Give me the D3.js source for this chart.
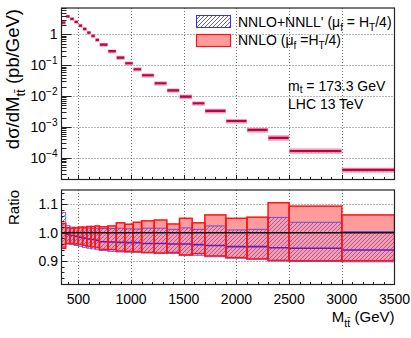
<!DOCTYPE html>
<html>
<head>
<meta charset="utf-8">
<script src="https://cdn.jsdelivr.net/npm/d3@7"></script>
<style>
  body { margin: 0; background: #fff; }
  text { font-family: "Liberation Sans", Arial, sans-serif; fill: #000; }
</style>
</head>
<body>
<div id="chart"></div>
<script>
// M_tt distribution, LHC 13 TeV: NNLO vs NNLO+NNLL'
const binEdges = [340, 380, 420, 460, 500, 540, 580, 620, 660, 700, 780, 860, 940, 1020, 1100,
                  1220, 1340, 1460, 1580, 1700, 1900, 2100, 2300, 2500, 3000, 3500];
// NNLO central value, pb/GeV
const nnloXsec = [2.42, 3.84, 3.19, 2.55, 1.93, 1.51, 1.14, 0.894, 0.663, 0.467, 0.285, 0.177, 0.116,
                  0.0741, 0.0473, 0.0260, 0.0154, 0.00957, 0.00584, 0.00328, 0.00155, 0.000794,
                  0.000437, 0.000165, 0.000040];
// NNLO scale band, as ratio to NNLO central
const nnloUp = [1.033, 1.018, 1.016, 1.018, 1.020, 1.020, 1.022, 1.022, 1.024, 1.021, 1.024, 1.035, 1.030,
                1.037, 1.042, 1.045, 1.031, 1.051, 1.035, 1.063, 1.051, 1.055, 1.106, 1.094, 1.063];
const nnloDown = [0.945, 0.962, 0.962, 0.960, 0.958, 0.955, 0.952, 0.950, 0.947, 0.941, 0.940, 0.935, 0.934,
                  0.933, 0.930, 0.928, 0.930, 0.921, 0.926, 0.918, 0.912, 0.907, 0.902, 0.901, 0.901];
// NNLO+NNLL' central and band, as ratio to NNLO central
const resCentral = [1.000, 0.995, 0.990, 0.987, 0.984, 0.981, 0.978, 0.976, 0.973, 0.968, 0.967, 0.966, 0.965,
                    0.965, 0.962, 0.962, 0.960, 0.960, 0.958, 0.955, 0.951, 0.951, 0.947, 0.945, 0.939];
const resUp = [1.071, 1.025, 1.020, 1.018, 1.017, 1.016, 1.016, 1.015, 1.015, 1.015, 1.015, 1.016, 1.014,
               1.013, 1.016, 1.016, 1.012, 1.017, 1.012, 1.024, 1.010, 1.012, 1.054, 1.037, 1.004];
const resDown = [0.950, 0.960, 0.958, 0.955, 0.952, 0.948, 0.945, 0.943, 0.940, 0.937, 0.934, 0.932, 0.931,
                 0.931, 0.929, 0.928, 0.927, 0.921, 0.920, 0.915, 0.910, 0.908, 0.900, 0.898, 0.897];

const xTickVals = [500, 1000, 1500, 2000, 2500, 3000, 3500];
const ratioTickVals = [0.9, 1.0, 1.1];
const logTickVals = [1e-4, 1e-3, 1e-2, 1e-1, 1];

const W = 411, H = 338;
const left = 61.5, right = 394.5;
const topPanel = { y0: 8, y1: 179.5 };
const ratPanel = { y0: 190, y1: 284.5 };

const pinkFill = "#ff9b9b";
const redLine = "#ff1414";
const blueLine = "#3030ff";
const gridColor = "#707070";

const bins = binEdges.slice(0, -1).map((lo, i) => ({
    lo, hi: binEdges[i + 1], v: nnloXsec[i],
    nUp: nnloUp[i], nDn: nnloDown[i],
    rC: resCentral[i], rUp: resUp[i], rDn: resDown[i]
}));

const svg = d3.select("#chart").append("svg")
    .attr("width", W).attr("height", H);

const defs = svg.append("defs");
defs.append("pattern")
    .attr("id", "hatch")
    .attr("patternUnits", "userSpaceOnUse")
    .attr("width", 4).attr("height", 4)
    .append("path")
    .attr("d", "M-1,1 l2,-2 M0,4 l4,-4 M3,5 l2,-2")
    .attr("stroke", blueLine)
    .attr("stroke-width", 0.8);

defs.append("clipPath").attr("id", "clipTop").append("rect")
    .attr("x", left).attr("y", topPanel.y0).attr("width", right - left).attr("height", topPanel.y1 - topPanel.y0);
defs.append("clipPath").attr("id", "clipRat").append("rect")
    .attr("x", left).attr("y", ratPanel.y0).attr("width", right - left).attr("height", ratPanel.y1 - ratPanel.y0);

const x = d3.scaleLinear().domain([340, 3500]).range([left, right]);
const yTop = d3.scaleLog().domain([1.96e-5, 7.2]).range([topPanel.y1, topPanel.y0]);
const yRat = d3.scaleLinear().domain([0.817, 1.151]).range([ratPanel.y1, ratPanel.y0]);

// text with sub/superscripts
function rich(sel, parts, size, subShift = 0.3) {
    let cur = 0;
    parts.forEach(p => {
        const off = p.sub ? size * subShift : p.sup ? -size * 0.42 : 0;
        sel.append("tspan")
            .attr("dy", off - cur)
            .attr("font-size", (p.sub || p.sup) ? size * 0.72 : size)
            .text(p.t);
        cur = off;
    });
}

function grid(panel, yScale, yVals) {
    const g = svg.append("g")
        .attr("stroke", gridColor)
        .attr("stroke-width", 1)
        .attr("stroke-dasharray", "1,2");
    xTickVals.filter(v => v < 3500).forEach(v => {
        g.append("line")
            .attr("x1", Math.round(x(v)) + 0.5).attr("x2", Math.round(x(v)) + 0.5)
            .attr("y1", panel.y0).attr("y2", panel.y1);
    });
    yVals.forEach(v => {
        g.append("line")
            .attr("x1", left).attr("x2", right)
            .attr("y1", Math.round(yScale(v)) + 0.5).attr("y2", Math.round(yScale(v)) + 0.5);
    });
}

grid(topPanel, yTop, logTickVals);
grid(ratPanel, yRat, ratioTickVals);

// ---------- top panel markers ----------
const gTop = svg.append("g").attr("clip-path", "url(#clipTop)");
gTop.selectAll("rect.band")
    .data(bins)
    .join("rect")
    .attr("class", "band")
    .attr("x", d => x(d.lo))
    .attr("width", d => x(d.hi) - x(d.lo))
    .attr("y", d => yTop(d.v * d.nUp) - 1.4)
    .attr("height", d => yTop(d.v * d.nDn) - yTop(d.v * d.nUp) + 2.8)
    .attr("fill", "#f4a0b4");

gTop.selectAll("line.cen")
    .data(bins)
    .join("line")
    .attr("class", "cen")
    .attr("x1", d => x(d.lo) + 0.5)
    .attr("x2", d => x(d.hi) - 0.5)
    .attr("y1", d => yTop(d.v))
    .attr("y2", d => yTop(d.v))
    .attr("stroke", "#c4003c")
    .attr("stroke-width", 2.2);

gTop.selectAll("line.res")
    .data(bins)
    .join("line")
    .attr("class", "res")
    .attr("x1", d => x(d.lo) + 1)
    .attr("x2", d => x(d.hi) - 1)
    .attr("y1", d => yTop(d.v * d.rC))
    .attr("y2", d => yTop(d.v * d.rC))
    .attr("stroke", "#5a30c0")
    .attr("stroke-width", 0.8)
    .attr("stroke-dasharray", "1.5,2.5");

// ---------- ratio panel ----------
const gRat = svg.append("g").attr("clip-path", "url(#clipRat)");

gRat.selectAll("rect.nnlo")
    .data(bins)
    .join("rect")
    .attr("class", "nnlo")
    .attr("x", d => x(d.lo))
    .attr("width", d => x(d.hi) - x(d.lo))
    .attr("y", d => yRat(d.nUp))
    .attr("height", d => yRat(d.nDn) - yRat(d.nUp))
    .attr("fill", pinkFill);

gRat.selectAll("rect.res")
    .data(bins)
    .join("rect")
    .attr("class", "res")
    .attr("x", d => x(d.lo))
    .attr("width", d => x(d.hi) - x(d.lo))
    .attr("y", d => yRat(d.rUp))
    .attr("height", d => yRat(d.rDn) - yRat(d.rUp))
    .attr("fill", "url(#hatch)")
    .attr("fill-opacity", 0.7)
    .attr("stroke", blueLine)
    .attr("stroke-opacity", 0.7)
    .attr("stroke-width", 1);

gRat.selectAll("line.resc")
    .data(bins)
    .join("line")
    .attr("class", "resc")
    .attr("x1", d => x(d.lo))
    .attr("x2", d => x(d.hi))
    .attr("y1", d => yRat(d.rC))
    .attr("y2", d => yRat(d.rC))
    .attr("stroke", "#6a1ab8")
    .attr("stroke-width", 1.6);

gRat.selectAll("rect.nnloEdge")
    .data(bins)
    .join("rect")
    .attr("class", "nnloEdge")
    .attr("x", d => x(d.lo))
    .attr("width", d => x(d.hi) - x(d.lo))
    .attr("y", d => yRat(d.nUp))
    .attr("height", d => yRat(d.nDn) - yRat(d.nUp))
    .attr("fill", "none")
    .attr("stroke", redLine)
    .attr("stroke-width", 1.5);

gRat.selectAll("line.one")
    .data(bins)
    .join("line")
    .attr("class", "one")
    .attr("x1", d => x(d.lo))
    .attr("x2", d => x(d.hi))
    .attr("y1", yRat(1))
    .attr("y2", yRat(1))
    .attr("stroke", "#111")
    .attr("stroke-width", 1.4);

// ---------- frames and ticks ----------
function frame(panel) {
    svg.append("rect")
        .attr("x", left).attr("y", panel.y0)
        .attr("width", right - left).attr("height", panel.y1 - panel.y0)
        .attr("fill", "none").attr("stroke", "#222").attr("stroke-width", 1.2);
}
frame(topPanel);
frame(ratPanel);

function xTicks(panel, majorLen, minorLen) {
    const g = svg.append("g").attr("stroke", "#222").attr("stroke-width", 1);
    d3.range(400, 3500, 100).forEach(v => {
        const len = v % 500 === 0 ? majorLen : minorLen;
        g.append("line")
            .attr("x1", Math.round(x(v)) + 0.5).attr("x2", Math.round(x(v)) + 0.5)
            .attr("y1", panel.y1).attr("y2", panel.y1 - len);
    });
}
xTicks(topPanel, 4.5, 2.5);
xTicks(ratPanel, 4.7, 2.5);

// log y ticks
const gYTop = svg.append("g").attr("stroke", "#222").attr("stroke-width", 1);
d3.range(-5, 1).forEach(e => {
    d3.range(1, 10).forEach(k => {
        const v = k * Math.pow(10, e);
        if (v < yTop.domain()[0] || v > yTop.domain()[1]) return;
        const len = k === 1 ? 10 : 5;
        gYTop.append("line")
            .attr("x1", left).attr("x2", left + len)
            .attr("y1", Math.round(yTop(v)) + 0.5).attr("y2", Math.round(yTop(v)) + 0.5);
    });
});

const gYRat = svg.append("g").attr("stroke", "#222").attr("stroke-width", 1);
d3.range(0.82, 1.15, 0.02).forEach(v => {
    const major = ratioTickVals.some(t => Math.abs(t - v) < 1e-6);
    gYRat.append("line")
        .attr("x1", left).attr("x2", left + (major ? 6 : 3))
        .attr("y1", Math.round(yRat(v)) + 0.5).attr("y2", Math.round(yRat(v)) + 0.5);
});

// ---------- tick labels ----------
svg.append("g").selectAll("text")
    .data(xTickVals)
    .join("text")
    .attr("x", d => x(d))
    .attr("y", 303.5)
    .attr("text-anchor", "middle")
    .attr("font-size", 14)
    .text(d => d);

logTickVals.forEach(v => {
    const e = Math.round(Math.log10(v));
    const t = svg.append("text")
        .attr("x", 57.5)
        .attr("y", yTop(v) + 5)
        .attr("text-anchor", "end")
        .attr("font-size", 14);
    if (e === 0) t.text("1");
    else rich(t, [{ t: "10" }, { t: "\u2212" + (-e), sup: true }], 14);
});

svg.append("g").selectAll("text")
    .data(ratioTickVals)
    .join("text")
    .attr("x", 58)
    .attr("y", d => yRat(d) + 5)
    .attr("text-anchor", "end")
    .attr("font-size", 14)
    .text(d => d.toFixed(1));

// ---------- axis titles ----------
const yTitle = svg.append("text")
    .attr("transform", `translate(19,${topPanel.y0 + 1}) rotate(-90)`)
    .attr("text-anchor", "end");
rich(yTitle, [{ t: "d\u03c3/dM" }, { t: "tt\u0304", sub: true }, { t: " (pb/GeV)" }], 18.5);

svg.append("text")
    .attr("transform", `translate(19,${ratPanel.y0}) rotate(-90)`)
    .attr("text-anchor", "end")
    .attr("font-size", 15)
    .text("Ratio");

const xTitle = svg.append("text")
    .attr("x", right)
    .attr("y", 322)
    .attr("text-anchor", "end");
rich(xTitle, [{ t: "M" }, { t: "tt\u0304", sub: true }, { t: " (GeV)" }], 15);

// ---------- legend ----------
svg.append("rect")
    .attr("x", 196.5).attr("y", 15.5).attr("width", 34).attr("height", 12)
    .attr("fill", "url(#hatch)").attr("stroke", blueLine).attr("stroke-width", 1);
svg.append("rect")
    .attr("x", 196.5).attr("y", 34.5).attr("width", 34).attr("height", 12)
    .attr("fill", pinkFill).attr("stroke", redLine).attr("stroke-width", 1.2);

const leg1 = svg.append("text").attr("x", 238).attr("y", 27);
rich(leg1, [{ t: "NNLO+NNLL' (\u03bc" }, { t: "f", sub: true }, { t: " = H" }, { t: "T", sub: true }, { t: "/4)" }], 14);
const leg2 = svg.append("text").attr("x", 238).attr("y", 45);
rich(leg2, [{ t: "NNLO (\u03bc" }, { t: "f", sub: true }, { t: " =H" }, { t: "T", sub: true }, { t: "/4)" }], 14);

const mt = svg.append("text").attr("x", 288).attr("y", 90.5);
rich(mt, [{ t: "m" }, { t: "t", sub: true }, { t: " = 173.3 GeV" }], 14, 0.2);
svg.append("text").attr("x", 288).attr("y", 108.5).attr("font-size", 14).text("LHC 13 TeV");
</script>
</body>
</html>
